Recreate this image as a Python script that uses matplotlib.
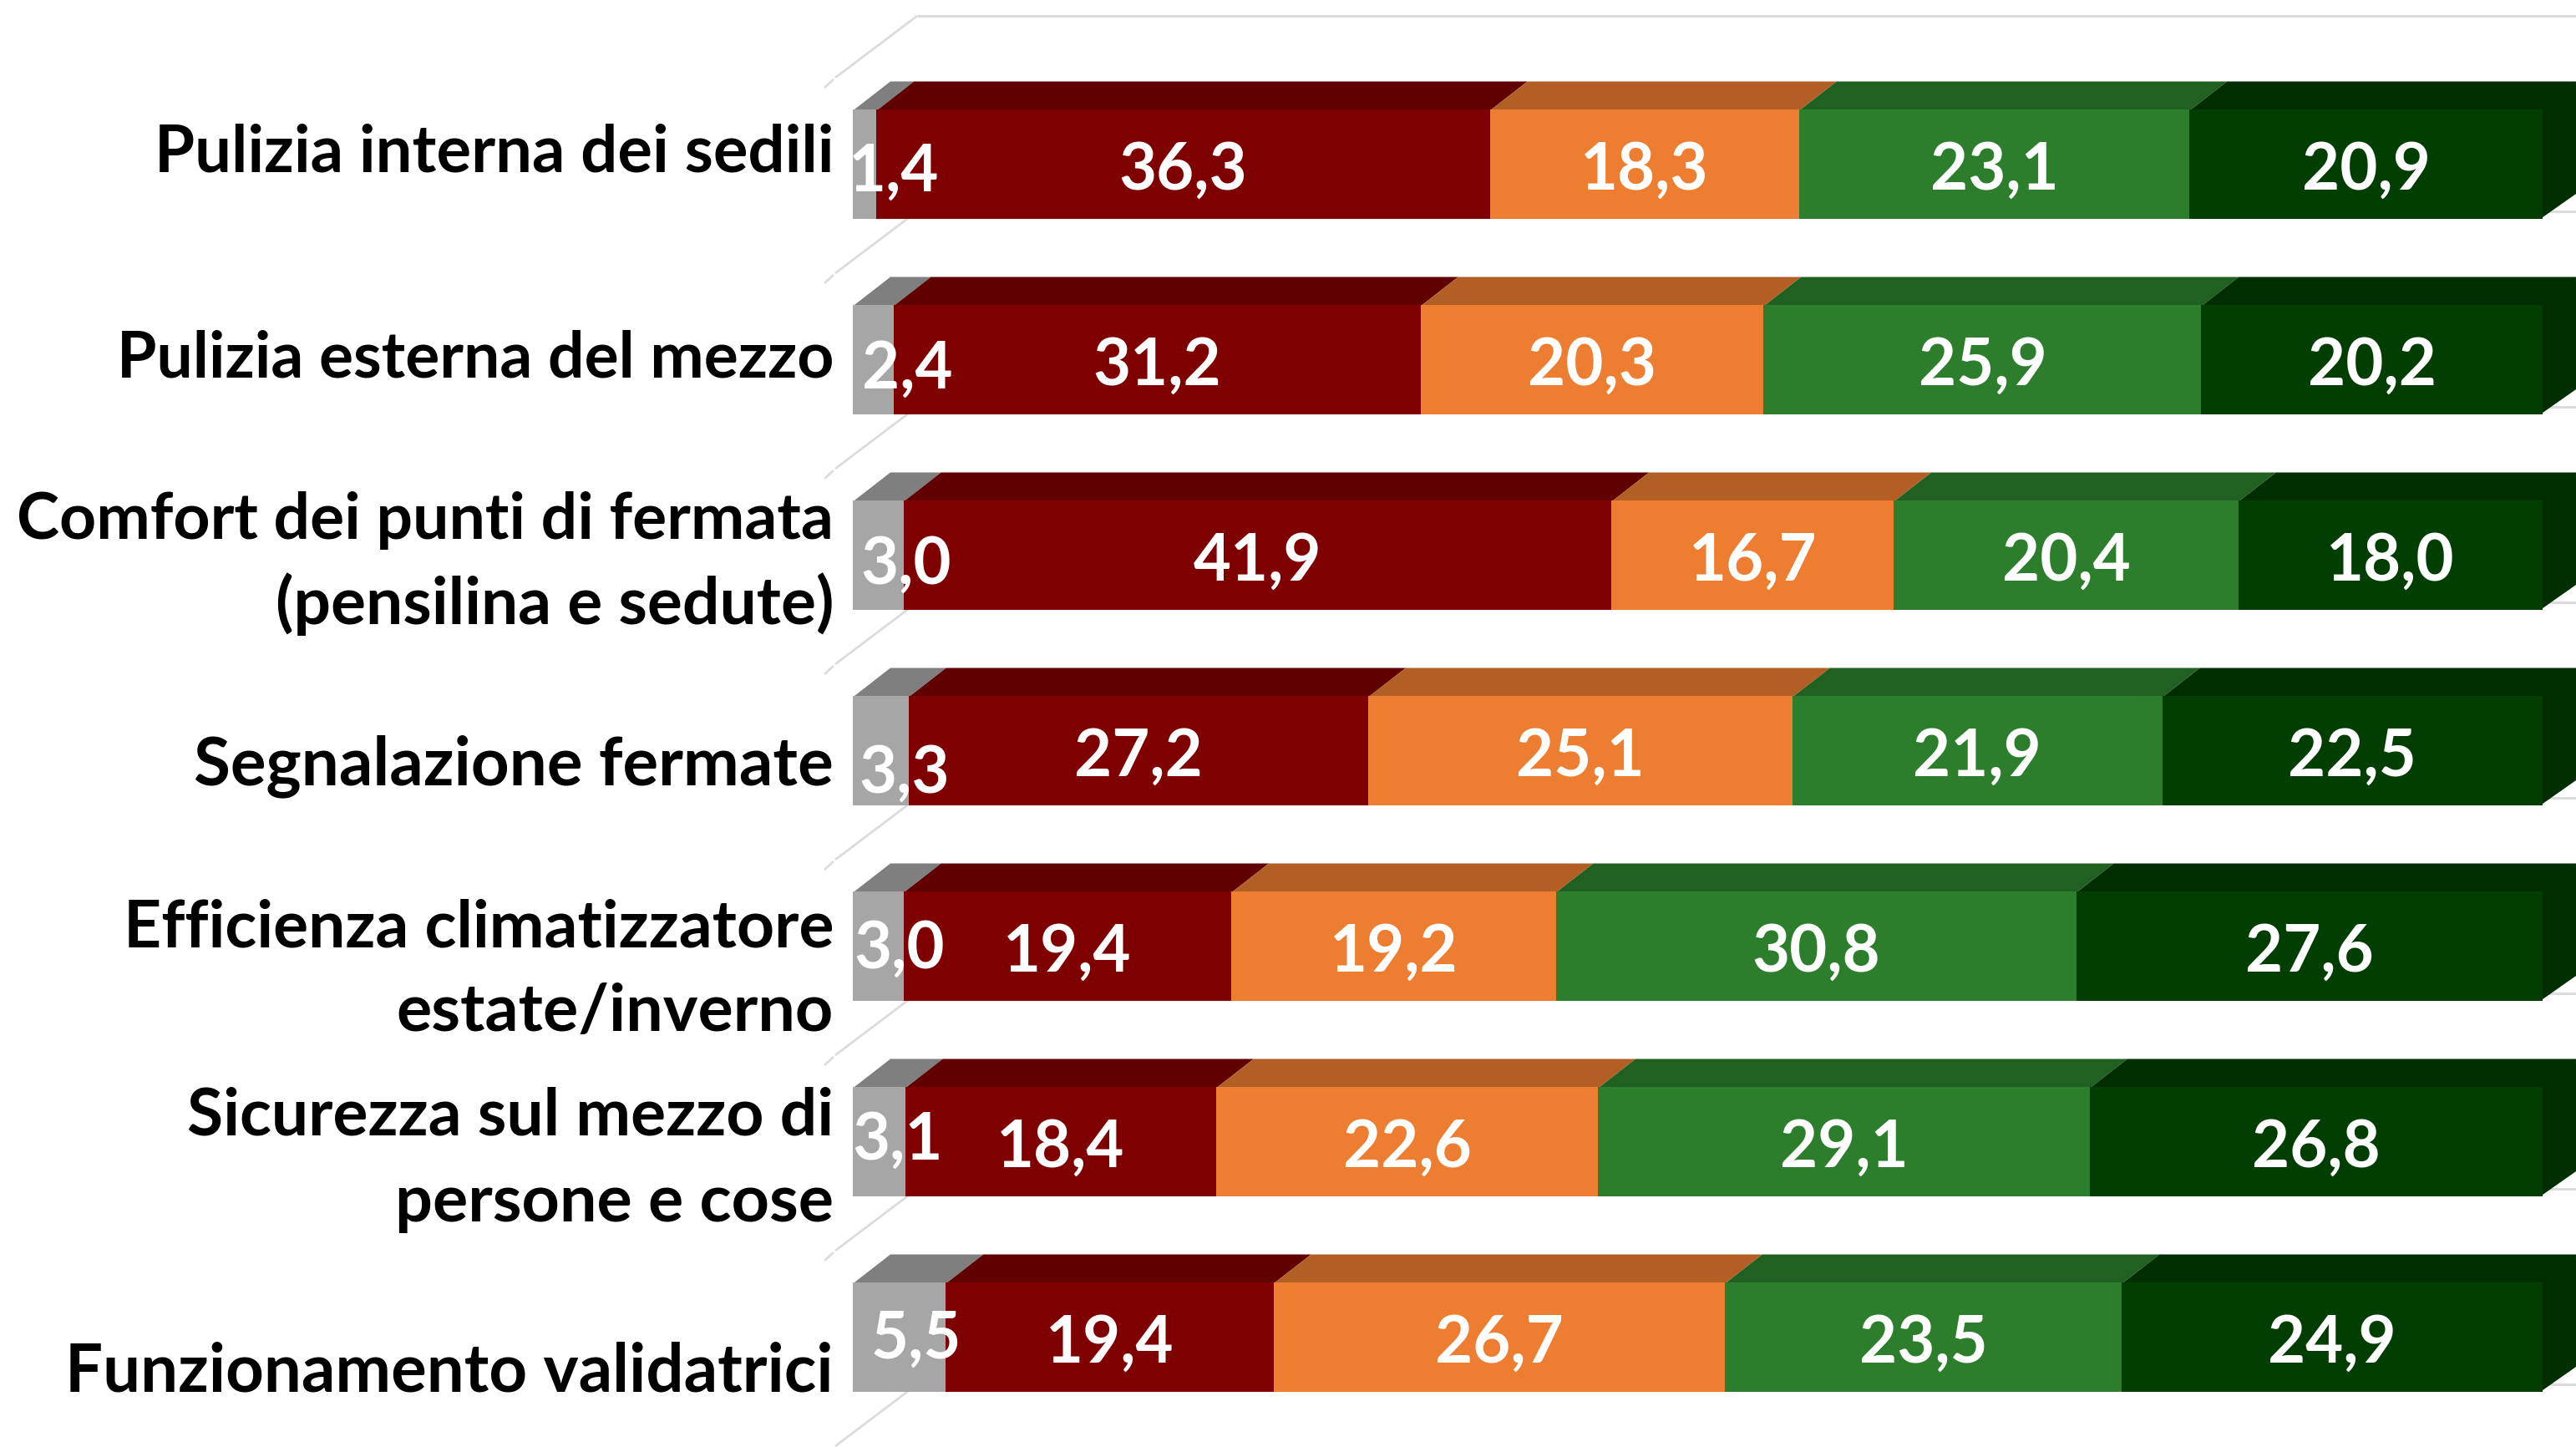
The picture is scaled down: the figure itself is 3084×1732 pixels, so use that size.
import matplotlib
matplotlib.use('Agg')
import matplotlib.pyplot as plt
from matplotlib.patches import Polygon

plt.rcParams['font.family'] = ['Lato', 'DejaVu Sans']

labels = [
    ['Pulizia interna dei sedili'],
    ['Pulizia esterna del mezzo'],
    ['Comfort dei punti di fermata', '(pensilina e sedute)'],
    ['Segnalazione fermate'],
    ['Efficienza climatizzatore', 'estate/inverno'],
    ['Sicurezza sul mezzo di', 'persone e cose'],
    ['Funzionamento validatrici'],
]

grey = [1.4, 2.4, 3.0, 3.3, 3.0, 3.1, 5.5]
red = [36.3, 31.2, 41.9, 27.2, 19.4, 18.4, 19.4]
orange = [18.3, 20.3, 16.7, 25.1, 19.2, 22.6, 26.7]
green = [23.1, 25.9, 20.4, 21.9, 30.8, 29.1, 23.5]
dark = [20.9, 20.2, 18.0, 22.5, 27.6, 26.8, 24.9]
series = [grey, red, orange, green, dark]

front = ['#A6A6A6', '#7F0000', '#ED7D31', '#2C7E2C', '#023D02']
top = ['#7F7F7F', '#600000', '#B25E25', '#206020', '#002E00']
side = '#002E00'

# layout in pixels of the 3084x1733 picture
W, H = 3084, 1733
X0, X100 = 1021, 3044
ROW0, PITCH = 197, 234
ppx = (X100 - X0) / 100
BAR_H = 131 / PITCH
DX, DY = 45 / ppx, 33 / PITCH
SEAM_X, SEAM_Y = 2 / ppx, 2 / PITCH  # faces run under the front so no pale seam shows

# nudges of the grey value labels (px)
grey_dx = [35, 41, 33, 28, 25, 22, 20]
grey_dy = [2, 4, 4, 20, -4, -9, -5]
# centre of each category text line, relative to the row centre (px)
label_dy = [[-20], [-8], [-48, 51], [10], [-29, 72], [-37, 66], [35]]
# Lato is not quite the original face, so widths are matched line by line
label_size = [[56], [55.4], [55.4, 56.5], [57.5], [56.6, 57], [56.6, 57], [57.4]]

fig = plt.figure(figsize=(W / 100, H / 100), dpi=100)
ax = fig.add_axes([0, 0, 1, 1])
ax.set_xlim(-X0 / ppx, (W - X0) / ppx)
ax.set_ylim((H - ROW0) / PITCH, -ROW0 / PITCH)
ax.axis('off')

# back wall and floor lines
for k in range(len(labels) + 1):
    yb = k - (ROW0 - 20) / PITCH
    ax.plot([77 / ppx, ax.get_xlim()[1]], [yb, yb], color='#DCDCDC', lw=2.2, zorder=1, solid_capstyle='butt')
    ax.plot([77 / ppx, -21 / ppx], [yb, yb + 74 / PITCH], color='#DCDCDC', lw=2.0, zorder=1, solid_capstyle='butt')
    ax.plot([-23 / ppx, -34 / ppx], [yb + 76 / PITCH, yb + 86 / PITCH], color='#DCDCDC', lw=2.0, zorder=1, solid_capstyle='butt')

for i in range(len(labels)):
    left = 0
    yt = i - BAR_H / 2
    for s, vals in enumerate(series):
        v = vals[i]
        ax.barh(i, v, left=left, height=BAR_H, color=front[s], lw=0, zorder=4)
        ax.add_patch(Polygon([(left, yt + SEAM_Y), (left + v, yt + SEAM_Y), (left + v + DX, yt - DY), (left + DX, yt - DY)],
                             closed=True, fc=top[s], lw=0, zorder=3))
        xc = left + v / 2
        yc = i
        if s == 0:
            xc += grey_dx[i] / ppx
            yc += grey_dy[i] / PITCH
        ax.text(xc, yc + 1 / PITCH, f'{v:.1f}'.replace('.', ','), color='white', fontsize=56, fontweight='bold',
                ha='center', va='center_baseline', zorder=6)
        left += v
    ax.add_patch(Polygon([(left - SEAM_X, yt), (left + DX, yt - DY), (left + DX, yt - DY + BAR_H), (left - SEAM_X, yt + BAR_H)],
                         closed=True, fc=side, lw=0, zorder=3))
    for line, dy, size in zip(labels[i], label_dy[i], label_size[i]):
        ax.text(-23 / ppx, i + dy / PITCH, line, color='black', fontsize=size, fontweight='bold',
                ha='right', va='center_baseline', zorder=5)

fig.savefig('out.png', dpi=100, facecolor='white')
